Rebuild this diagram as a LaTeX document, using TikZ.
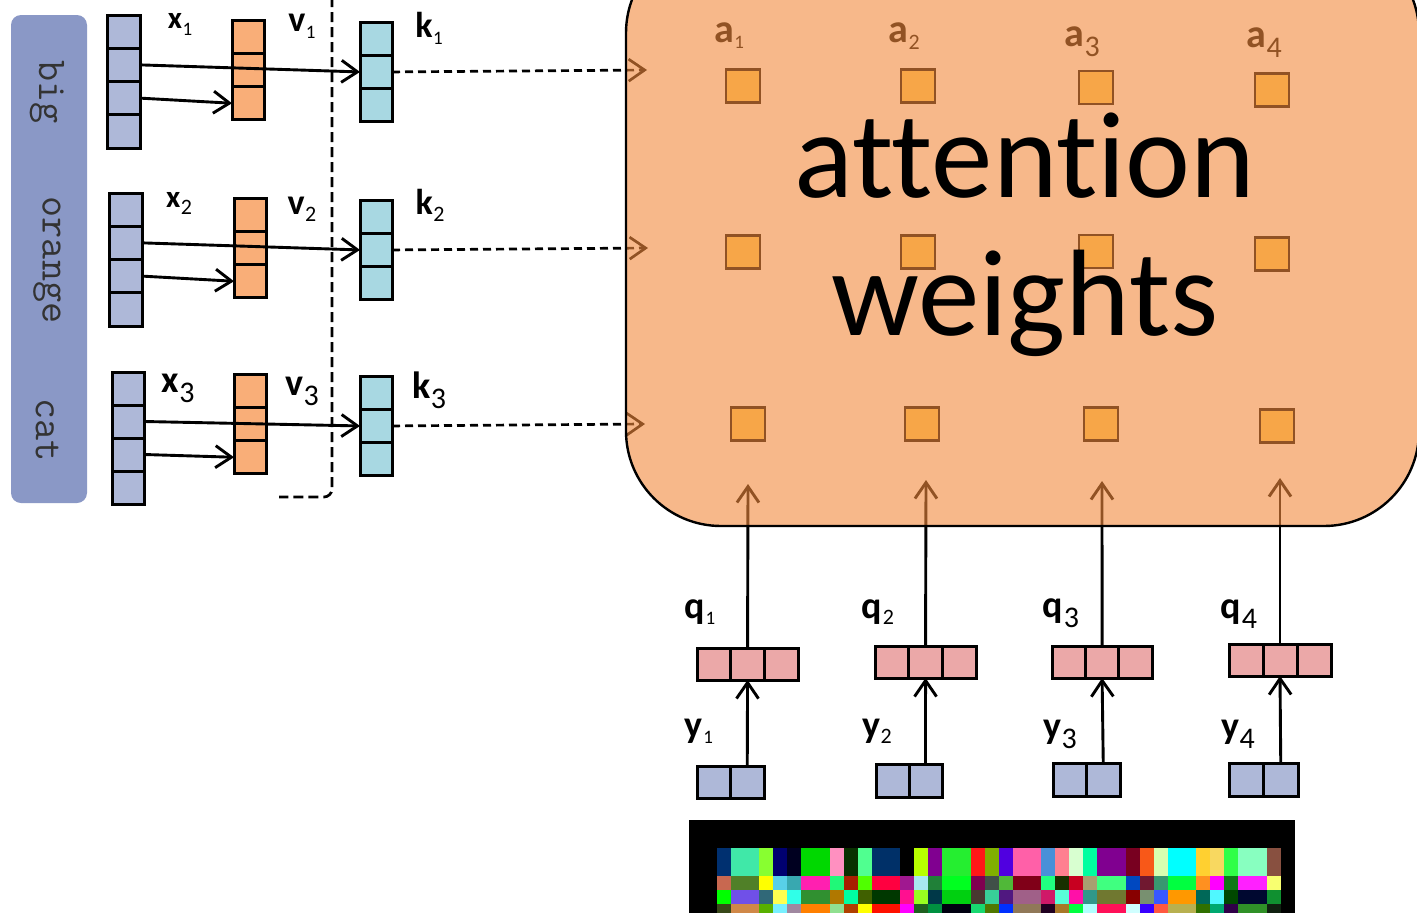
\documentclass[tikz,border=0pt]{standalone}
\usepackage{fontspec}
\setmainfont{Carlito}[Ligatures=NoCommon]
\usetikzlibrary{arrows.meta}
\definecolor{panel}{HTML}{8A98C6}
\definecolor{lav}{HTML}{AEB8D8}
\definecolor{vor}{HTML}{F9AE78}
\definecolor{kbl}{HTML}{A8D8E2}
\definecolor{qpk}{HTML}{EBA8A8}
\definecolor{boxorange}{RGB}{243,138,60}
\definecolor{sqfill}{RGB}{255,210,90}
\newcommand\vlab[5]{{\fontsize{#1pt}{#1pt}\selectfont\bfseries #2}\kern0.5pt\raisebox{-#5pt}{\fontsize{#3pt}{#3pt}\selectfont #4}}
% vertical vector: name, left, top, n, cellw, cellh, colour
\newcommand\colvec[7]{\foreach \i in {1,...,#4}{\node[cell,fill=#7,minimum width=#5pt,minimum height=#6pt] (#1-\i) at ({#2+#5/2},{#3+#6*(\i-0.5)}) {};}}
% horizontal vector
\newcommand\rowvec[7]{\foreach \i in {1,...,#4}{\node[cell,fill=#7,minimum width=#5pt,minimum height=#6pt] (#1-\i) at ({#2+#5*(\i-0.5)},{#3+#6/2}) {};}}
\newcommand\gridrow[3]{\foreach \c [count=\i from 0] in {#3}{\definecolor{tmpc}{HTML}{\c}\fill[tmpc] ({716.7+14.1*\i},#1) rectangle ({716.7+14.1*\i+14.4},#2);}}
\begin{document}
\begin{tikzpicture}[x=1pt,y=-1pt,
 cell/.style={draw=black,line width=3pt,inner sep=0pt,outer sep=0pt},
 arr/.style={line width=2.9pt,-{Straight Barb[length=16pt,width=22pt]}},
 darr/.style={arr,line width=2.7pt,dash pattern=on 8pt off 5pt},
 lab/.style={inner sep=0pt,text=black},
 word/.style={rotate=-90,font=\ttfamily\fontsize{41pt}{41pt}\selectfont,text=black!80,inner sep=0pt},
 sq/.style={draw=black,line width=2.8pt,fill=sqfill,minimum width=34pt,minimum height=33pt,inner sep=0pt},
 big/.style={font=\fontsize{123pt}{123pt}\selectfont,anchor=base,inner sep=0pt}]
\clip (0,0) rectangle (1417,913);
\fill[white] (0,0) rectangle (1417,913);
% left panel
\node[fill=panel,rounded corners=10pt,minimum width=76pt,minimum height=488pt,inner sep=0pt] (panel) at (49,259) {};
\node[word] (wbig) at (47,92) {big};
\node[word] (worange) at (47,260) {orange};
\node[word] (wcat) at (47,430) {cat};
% vectors
\colvec{x1}{107}{15}{4}{33}{33.25}{lav}
\colvec{x2}{109.5}{193}{4}{33}{33.25}{lav}
\colvec{x3}{112}{372}{4}{32.5}{33}{lav}
\colvec{v1}{232}{20}{3}{32}{33.3}{vor}
\colvec{v2}{234}{198}{3}{32}{33.3}{vor}
\colvec{v3}{234}{374}{3}{32}{33.3}{vor}
\colvec{k1}{360}{22}{3}{32}{33.3}{kbl}
\colvec{k2}{360}{200}{3}{32}{33.3}{kbl}
\colvec{k3}{360}{376}{3}{32}{33.3}{kbl}
% labels
\node[lab] (lx1) at (180,24) {\vlab{31}{x}{19}{1}{7}};
\node[lab] (lx2) at (179,203) {\vlab{31}{x}{22}{2}{7}};
\node[lab] (lx3) at (178,388) {\vlab{38}{x}{30}{3}{10}};
\node[lab] (lv1) at (302,26) {\vlab{36}{v}{19}{1}{7}};
\node[lab] (lv2) at (302,209) {\vlab{36}{v}{22}{2}{7}};
\node[lab] (lv3) at (302,391) {\vlab{38}{v}{30}{3}{10}};
\node[lab] (lk1) at (429,28) {\vlab{36}{k}{19}{1}{7}};
\node[lab] (lk2) at (430,205) {\vlab{36}{k}{22}{2}{7}};
\node[lab] (lk3) at (429,390) {\vlab{38}{k}{30}{3}{10}};
% arrows x -> v, x -> k
\draw[arr] (x1-2.east) -- (k1-2.west);
\draw[arr] (x1-3.east) -- (v1-3.west);
\draw[arr] (x2-2.east) -- (k2-2.west);
\draw[arr] (x2-3.east) -- (v2-3.west);
\draw[arr] (x3-2.east) -- (k3-2.west);
\draw[arr] (x3-3.east) -- (v3-3.west);
% dashed separator
\draw[line width=2.7pt,dash pattern=on 10pt off 5pt,rounded corners=8pt] (332,-3) -- (332,497) -- (279,497);
% a squares (under the box)
\node[sq] (a11) at (743,86) {};
\node[sq] (a12) at (918,86) {};
\node[sq] (a13) at (1096,87.5) {};
\node[sq] (a14) at (1272,90) {};
\node[sq] (a21) at (743,252) {};
\node[sq] (a22) at (918,252) {};
\node[sq] (a23) at (1096,251.5) {};
\node[sq] (a24) at (1272,254) {};
\node[sq] (a31) at (748,424) {};
\node[sq] (a32) at (922,424) {};
\node[sq] (a33) at (1101,424) {};
\node[sq] (a34) at (1277,426) {};
\node[lab] (la1) at (729,36) {\vlab{40}{a}{19}{1}{6}};
\node[lab] (la2) at (904,36) {\vlab{40}{a}{22}{2}{7}};
\node[lab] (la3) at (1082,42) {\vlab{40}{a}{30}{3}{10}};
\node[lab] (la4) at (1264,43) {\vlab{40}{a}{30}{4}{10}};
% k -> attention dashed arrows
\coordinate (t1) at (647,70);
\coordinate (t2) at (648,248);
\coordinate (t3) at (645,424);
\draw[darr] (k1-2.east) -- (t1);
\draw[darr] (k2-2.east) -- (t2);
\draw[darr] (k3-2.east) -- (t3);
% queries
\rowvec{q1}{697}{648}{3}{33.7}{32}{qpk}
\rowvec{q2}{875}{646}{3}{33.7}{32}{qpk}
\rowvec{q3}{1052}{646}{3}{33.4}{32}{qpk}
\rowvec{q4}{1229}{644}{3}{34}{32}{qpk}
\rowvec{y1}{697}{766}{2}{33.5}{32}{lav}
\rowvec{y2}{876}{764}{2}{33}{33}{lav}
\rowvec{y3}{1053}{763}{2}{33.5}{33}{lav}
\rowvec{y4}{1229}{763}{2}{34.5}{33}{lav}
\node[lab] (lq1) at (700,612) {\vlab{38}{q}{19}{1}{6}};
\node[lab] (lq2) at (878,612) {\vlab{38}{q}{22}{2}{6}};
\node[lab] (lq3) at (1061,613) {\vlab{38}{q}{30}{3}{10}};
\node[lab] (lq4) at (1239,614) {\vlab{38}{q}{30}{4}{10}};
\node[lab] (ly1) at (699,731) {\vlab{38}{y}{19}{1}{6}};
\node[lab] (ly2) at (877,731) {\vlab{38}{y}{22}{2}{6}};
\node[lab] (ly3) at (1060,734) {\vlab{38}{y}{30}{3}{10}};
\node[lab] (ly4) at (1238,734) {\vlab{38}{y}{30}{4}{10}};
\draw[arr] (y1-2.north) -- (q1-2.south);
\draw[arr] (y2-2.north) -- (q2-2.south);
\draw[arr] (y3-2.north) -- (q3-2.south);
\draw[arr] (y4-2.north) -- (q4-2.south);
\coordinate (u1) at (748,484);
\coordinate (u2) at (926,480);
\coordinate (u3) at (1102,481);
\coordinate (u4) at (1280,478);
\draw[arr] (q1-2.north) -- (u1);
\draw[arr] (q2-2.north) -- (u2);
\draw[arr] (q3-2.north) -- (u3);
\draw[arr] (q4-2.north) -- (u4);
% attention box (translucent)
\path[draw=black,line width=2.4pt,fill=boxorange,fill opacity=0.6,rounded corners=95pt] (626,-62) rectangle (1419,526);
\node[big] (att) at (1025,197) {attention};
\node[big] (wts) at (1025,335) {weights};
% pixel image
\fill[black] (689,820) rectangle (1295,920);
\gridrow{848}{876.3}{003070,40E8A8,40E8A8,88FF30,000070,000020,00D800,00D800,FF90C0,083000,50FF90,003068,003068,000000,B8FF00,800090,25EE30,25EE30,FF1818,80B000,5000E0,FF60A8,FF60A8,4890D8,FF8090,D8FFD0,00FFA0,800090,800090,780020,F85818,D8FFB0,00FFFF,00FFFF,FFD030,F8D860,30FF48,88FFC0,88FFC0,885040}
\gridrow{876}{890.3}{C86850,508028,508028,FFFF00,58D0E8,38A8B0,FF20B0,FF20B0,20F878,A82000,50FF00,FF0040,FF0040,A01890,A8E8F0,208038,00FF20,00FF20,800050,405048,50B838,800018,800018,20FF80,183000,C80020,A8A070,40FF80,40FF80,0048C0,701830,389870,00FF40,00FF40,FF9020,FF00FF,107818,FF20FF,FF20FF,F8FF70}
\gridrow{890}{904.3}{00FF00,7050E8,7050E8,306878,FFFF50,30FFE8,309030,309030,B07800,00FFA0,406000,003800,003800,FF1090,98FF20,003848,00D010,00D010,483830,38D098,501880,A06088,A06088,D01868,58FFD8,FF10A8,30988A,707830,707830,880000,789070,3858FF,FF9800,FF9800,006858,50F8FF,004800,000830,000830,109030}
\gridrow{904}{920}{384818,D08848,D08848,58B000,78F0FF,A088A0,FF8000,FF8000,90E090,B04000,FFFF00,FF1000,FF1000,FF00FF,206020,009040,000010,000010,18D870,507800,0030FF,907858,907858,200020,A87828,00FF40,B0FFFF,FF1058,FF1058,D0FFFF,3800FF,FF5840,B8B050,B8B050,307000,00A870,300048,309028,309028,102010}
\end{tikzpicture}
\end{document}
